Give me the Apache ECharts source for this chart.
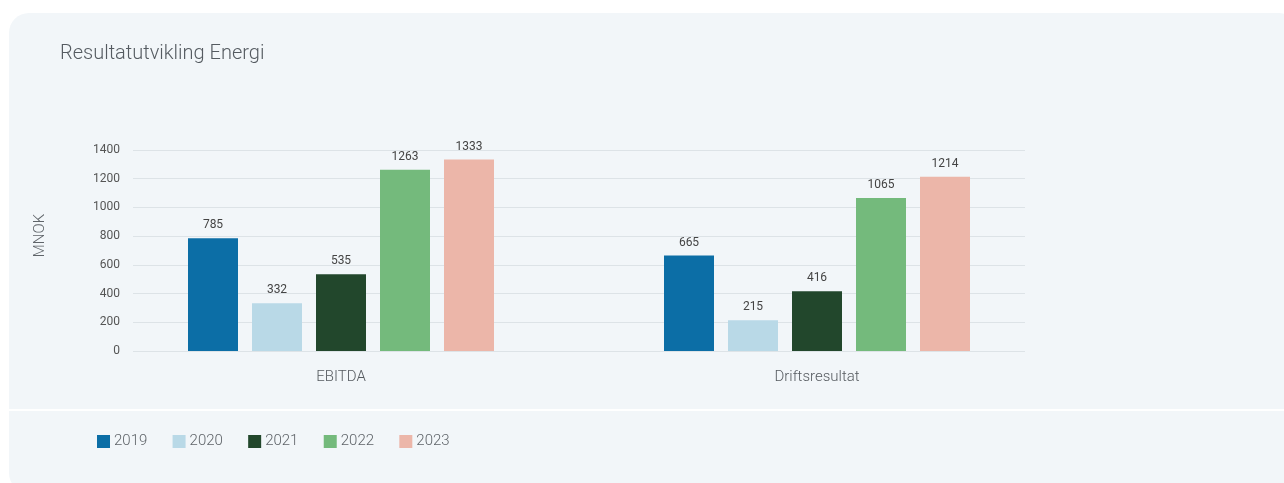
<!DOCTYPE html>
<html><head><meta charset="utf-8">
<script src="https://cdn.jsdelivr.net/npm/echarts@6/dist/echarts.min.js"></script>
<style>
html,body{margin:0;padding:0;background:#fff;width:1284px;height:483px;overflow:hidden;}
#card{position:absolute;left:9px;top:13px;width:1290px;height:480px;background:#f2f6f9;border-radius:20px;}
#sep{position:absolute;left:9px;top:409px;width:1284px;height:2px;background:#fff;}
#c{position:absolute;left:0;top:0;width:1284px;height:483px;}
</style></head><body>
<div id="card"></div><div id="sep"></div>
<div id="c"></div>
<script>
const categories = ['EBITDA', 'Driftsresultat'];
const years = ['2019', '2020', '2021', '2022', '2023'];
const values2019 = [785, 665];
const values2020 = [332, 215];
const values2021 = [535, 416];
const values2022 = [1263, 1065];
const values2023 = [1333, 1214];
const colors = ['#0c6ea6', '#c3e4f1', '#20482b', '#74ba7c', '#f6baab'];
const barColors = ['#0c6ea6', '#b9d9e7', '#22472c', '#74ba7c', '#ecb6a9'];
const seriesValues = [values2019, values2020, values2021, values2022, values2023];

const chart = echarts.init(document.getElementById('c'));
const font = 'Roboto, sans-serif';
chart.setOption({
  animation: false,
  color: colors,
  title: {
    text: 'Resultatutvikling Energi', left: 55, top: 39,
    textStyle: {fontFamily: font, fontSize: 20, fontWeight: 300, color: '#555b61'}
  },
  legend: {
    left: 92, top: 429, itemWidth: 13, itemHeight: 13, itemGap: 25.3,
    icon: 'rect',
    data: years,
    textStyle: {fontFamily: font, fontSize: 15, fontWeight: 300, color: '#5f6469', padding: [0,0,0,-1]}
  },
  grid: [
    {left: 133, right: 259, top: 150, bottom: 132},
    {left: 103, right: 229, top: 150, bottom: 132}
  ],
  xAxis: [
    {gridIndex: 0, type: 'category', data: categories, show: false},
    {gridIndex: 1, type: 'category', data: categories,
     axisLine: {show: false}, axisTick: {show: false},
     axisLabel: {fontFamily: font, fontSize: 15, fontWeight: 300, color: '#555a5f', margin: 19}}
  ],
  yAxis: [
    {gridIndex: 0, type: 'value', min: 0, max: 1400, interval: 200,
     name: 'MNOK', nameLocation: 'middle', nameGap: 85, nameRotate: 90,
     nameTextStyle: {fontFamily: font, fontSize: 15, fontWeight: 300, color: '#5f6469',
                     padding: [0, 0, 0, 30]},
     axisLine: {show: false}, axisTick: {show: false},
     axisLabel: {fontFamily: font, fontSize: 12, color: '#555', margin: 13,
                 formatter: v => String(v)},
     splitLine: {lineStyle: {color: '#dde3e7', width: 1}}},
    {gridIndex: 1, type: 'value', min: 0, max: 1400, interval: 200, show: false,
     splitLine: {show: false}}
  ],
  series: years.map((y, i) => ({
    name: y, type: 'bar', xAxisIndex: 1, yAxisIndex: 1,
    data: seriesValues[i],
    barWidth: 50, barGap: '28%',
    itemStyle: {color: barColors[i]},
    label: {show: true, position: 'top', distance: 7,
            fontFamily: font, fontSize: 12, color: '#444'}
  }))
});
</script>
</body></html>
